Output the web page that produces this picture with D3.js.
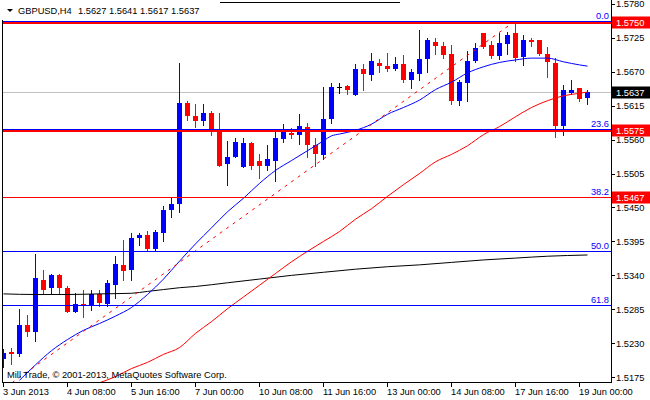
<!DOCTYPE html>
<html><head><meta charset="utf-8">
<script src="https://cdn.jsdelivr.net/npm/d3@7"></script>
<style>
body{margin:0;background:#fff}
svg{display:block}
text{font-family:"Liberation Sans",Arial,sans-serif;font-size:9.3px}
</style>
</head><body><div id="chart"></div>
<script>
const symbolName = "GBPUSD,H4";
const opens  = [1.5204,1.5216,1.5213,1.5259,1.5249,1.5333,1.5319,1.5340,1.5319,1.5280,1.5294,1.5292,1.5309,1.5294,1.5325,1.5356,1.5348,1.5400,1.5405,1.5383,1.5408,1.5446,1.5455,1.5620,1.5599,1.5590,1.5603,1.5573,1.5520,1.5531,1.5515,1.5554,1.5526,1.5518,1.5525,1.5561,1.5571,1.5568,1.5580,1.5552,1.5535,1.5593,1.5646,1.5647,1.5633,1.5674,1.5664,1.5684,1.5680,1.5675,1.5683,1.5656,1.5667,1.5690,1.5718,1.5711,1.5698,1.5623,1.5652,1.5688,1.5732,1.5713,1.5695,1.5715,1.5732,1.5693,1.5722,1.5721,1.5699,1.5684,1.5582,1.5636,1.5643,1.5627];
const highs  = [1.5220,1.5222,1.5285,1.5275,1.5375,1.5348,1.5343,1.5343,1.5322,1.5311,1.5317,1.5317,1.5317,1.5332,1.5371,1.5397,1.5408,1.5408,1.5412,1.5414,1.5453,1.5465,1.5684,1.5623,1.5617,1.5617,1.5607,1.5603,1.5558,1.5563,1.5563,1.5556,1.5536,1.5552,1.5574,1.5586,1.5578,1.5602,1.5587,1.5563,1.5646,1.5652,1.5652,1.5649,1.5682,1.5683,1.5701,1.5691,1.5701,1.5693,1.5697,1.5675,1.5738,1.5725,1.5725,1.5718,1.5713,1.5656,1.5704,1.5717,1.5733,1.5719,1.5733,1.5735,1.5750,1.5729,1.5724,1.5721,1.5710,1.5692,1.5648,1.5656,1.5644,1.5641];
const lows   = [1.5191,1.5196,1.5209,1.5242,1.5233,1.5309,1.5309,1.5309,1.5280,1.5280,1.5272,1.5284,1.5290,1.5290,1.5304,1.5333,1.5332,1.5390,1.5379,1.5379,1.5395,1.5434,1.5442,1.5591,1.5580,1.5584,1.5567,1.5518,1.5487,1.5531,1.5515,1.5513,1.5498,1.5510,1.5493,1.5556,1.5563,1.5553,1.5531,1.5517,1.5529,1.5587,1.5636,1.5634,1.5632,1.5641,1.5657,1.5670,1.5671,1.5672,1.5654,1.5643,1.5656,1.5670,1.5699,1.5692,1.5618,1.5616,1.5623,1.5686,1.5709,1.5692,1.5690,1.5698,1.5688,1.5681,1.5711,1.5697,1.5661,1.5564,1.5567,1.5634,1.5623,1.5617];
const closes = [1.5215,1.5212,1.5259,1.5248,1.5335,1.5317,1.5340,1.5319,1.5281,1.5293,1.5291,1.5309,1.5296,1.5327,1.5358,1.5347,1.5400,1.5405,1.5383,1.5410,1.5446,1.5456,1.5620,1.5598,1.5590,1.5603,1.5572,1.5518,1.5532,1.5556,1.5555,1.5518,1.5518,1.5528,1.5562,1.5573,1.5568,1.5582,1.5552,1.5536,1.5593,1.5645,1.5646,1.5640,1.5674,1.5666,1.5687,1.5679,1.5675,1.5683,1.5657,1.5670,1.5690,1.5721,1.5711,1.5697,1.5623,1.5654,1.5688,1.5709,1.5710,1.5695,1.5717,1.5730,1.5692,1.5721,1.5718,1.5698,1.5686,1.5582,1.5640,1.5641,1.5625,1.5637];

const timeTickBars = [0,8,16,24,32,40,48,56,64,72];
const timeTickLabels = ["3 Jun 2013","4 Jun 08:00","5 Jun 16:00","7 Jun 00:00","10 Jun 08:00","11 Jun 16:00","13 Jun 00:00","14 Jun 08:00","17 Jun 16:00","19 Jun 00:00"];
const priceTicks = [1.5780,1.5725,1.5670,1.5615,1.5560,1.5505,1.5450,1.5395,1.5340,1.5285,1.5230,1.5175];

const levelPrices = [1.5750,1.5575,1.5467];
const currentPrice = 1.5637;

const fibLevels = [0,23.6,38.2,50,61.8];
const fibLabels = ["0.0","23.6","38.2","50.0","61.8"];
const fibHighPrice = 1.57525, fibLowPrice = 1.5007;
const fibHighBar = 64, fibLowBar = -16;

const maFastBars = [2,4,6,8,10,12,14,16,18,20,22,24,26,28,30,32,34,36,38,40,41,42,44,46,48,50,52,54,56,58,60,62,64,66,68,70,72,73];
const maFastVals = [1.5170,1.5195,1.5218,1.5236,1.5251,1.5262,1.5274,1.5288,1.5309,1.5334,1.5363,1.5391,1.5417,1.5443,1.5465,1.5489,1.5510,1.5526,1.5542,1.5558,1.5566,1.5569,1.5575,1.5585,1.5601,1.5612,1.5624,1.5641,1.5653,1.5668,1.5678,1.5685,1.5689,1.5692,1.5692,1.5686,1.5681,1.5679];

const maMidBars = [12,14,16,18,20,22,24,26,28,30,32,34,36,38,40,42,44,46,48,50,52,54,56,58,60,62,64,66,68,70,72,73];
const maMidVals = [1.5166,1.5176,1.5189,1.5199,1.5212,1.5223,1.5246,1.5265,1.5286,1.5305,1.5324,1.5343,1.5362,1.5379,1.5395,1.5411,1.5431,1.5448,1.5468,1.5487,1.5505,1.5524,1.5536,1.5550,1.5568,1.5581,1.5597,1.5612,1.5623,1.5631,1.5635,1.5637];

const maSlowBars = [0,4,8,12,16,18,20,22,24,28,32,36,40,44,48,52,56,60,64,68,73];
const maSlowVals = [1.5310,1.5309,1.5309,1.5310,1.5311,1.5314,1.5317,1.5320,1.5322,1.5328,1.5334,1.5340,1.5345,1.5350,1.5354,1.5357,1.5361,1.5365,1.5368,1.5371,1.5373];

const copyright = "Mill Trade, \u00A9 2001-2013, MetaQuotes Software Corp.";

const W = 650, H = 400;
const plot = {l:2, r:611, t:0, b:382};
const BLUE = "#0000ff", RED = "#ff0000";
const levelStrokeWidths = [2,2,1];

const svg = d3.select("#chart").append("svg").attr("width",W).attr("height",H);
const x = d3.scaleLinear().domain([0,73]).range([3.5,587.5]);
const y = d3.scaleLinear().domain([1.5175,1.5780]).range([377.2,3.8]);
const py = v => Math.round(y(v)) + 0.5;

svg.append("defs").append("clipPath").attr("id","clip")
  .append("rect").attr("x",plot.l).attr("y",plot.t).attr("width",plot.r-plot.l).attr("height",plot.b-plot.t);
const g = svg.append("g").attr("clip-path","url(#clip)");

// current price line
g.append("line").attr("x1",plot.l).attr("x2",plot.r).attr("y1",py(currentPrice)).attr("y2",py(currentPrice))
  .attr("stroke","#c0c0c0").attr("stroke-width",1).attr("shape-rendering","crispEdges");

// candles
const bars = opens.map((o,i)=>({i, o, h:highs[i], l:lows[i], c:closes[i]}));
const col = d => d.c > d.o ? BLUE : (d.c < d.o ? RED : "#000");
const cg = g.append("g").attr("shape-rendering","crispEdges");
cg.selectAll("line.wick").data(bars).join("line").attr("class","wick")
  .attr("x1",d=>x(d.i)).attr("x2",d=>x(d.i))
  .attr("y1",d=>Math.round(y(d.h))).attr("y2",d=>Math.round(y(d.l))+1)
  .attr("stroke",col).attr("stroke-width",1);
cg.selectAll("rect.body").data(bars).join("rect").attr("class","body")
  .attr("x",d=>x(d.i)-2.5).attr("width",5)
  .attr("y",d=>Math.round(y(Math.max(d.o,d.c))))
  .attr("height",d=>Math.max(1,Math.round(y(Math.min(d.o,d.c)))-Math.round(y(Math.max(d.o,d.c)))))
  .attr("fill",col);

// moving averages
const line = d3.line().x(d=>x(d[0])).y(d=>y(d[1])).curve(d3.curveMonotoneX);
const mas = [
  {b:maSlowBars, v:maSlowVals, c:"#000"},
  {b:maMidBars, v:maMidVals, c:RED},
  {b:maFastBars, v:maFastVals, c:BLUE}
];
mas.forEach(m=>{
  g.append("path").attr("d",line(m.b.map((b,i)=>[b,m.v[i]])))
    .attr("fill","none").attr("stroke",m.c).attr("stroke-width",1);
});

// fibonacci trend line
g.append("line")
  .attr("x1",x(fibLowBar)).attr("y1",y(fibLowPrice))
  .attr("x2",x(fibHighBar)).attr("y2",y(fibHighPrice))
  .attr("stroke",RED).attr("stroke-width",1).attr("stroke-dasharray","3,5");

// fibonacci levels (drawn first, red levels on top)
const hg = g.append("g").attr("shape-rendering","crispEdges");
const fibPrice = lv => fibHighPrice - (fibHighPrice-fibLowPrice)*lv/100;
fibLevels.forEach(lv=>{
  const fy = py(fibPrice(lv));
  hg.append("line").attr("x1",plot.l).attr("x2",plot.r)
    .attr("y1",fy).attr("y2",fy).attr("stroke",BLUE).attr("stroke-width",1);
});
levelPrices.forEach((p,i)=>{
  const w = levelStrokeWidths[i];
  const yy = w === 2 ? Math.round(y(p)) + 1 : py(p);
  hg.append("line").attr("x1",plot.l).attr("x2",plot.r)
    .attr("y1",yy).attr("y2",yy).attr("stroke",RED).attr("stroke-width",w);
});
fibLevels.forEach((lv,i)=>{
  svg.append("text").attr("x",609).attr("y",py(fibPrice(lv))-2.5)
    .attr("text-anchor","end").attr("fill",BLUE).text(fibLabels[i]);
});

// frame
const fr = svg.append("g").attr("shape-rendering","crispEdges").attr("stroke","#000").attr("stroke-width",1);
fr.append("line").attr("x1",plot.l+0.5).attr("x2",plot.l+0.5).attr("y1",20).attr("y2",plot.b+0.5);
fr.append("line").attr("x1",plot.l).attr("x2",plot.r+1).attr("y1",plot.b+0.5).attr("y2",plot.b+0.5);
fr.append("line").attr("x1",plot.r+0.5).attr("x2",plot.r+0.5).attr("y1",0).attr("y2",plot.b+1);
fr.append("line").attr("x1",220).attr("x2",400).attr("y1",2.5).attr("y2",2.5);

// price axis
priceTicks.forEach(p=>{
  fr.append("line").attr("x1",plot.r+1).attr("x2",plot.r+4).attr("y1",py(p)).attr("y2",py(p));
  svg.append("text").attr("x",616).attr("y",y(p)+3.4).attr("fill","#000").text(p.toFixed(4));
});
// time axis
timeTickBars.forEach((b,i)=>{
  fr.append("line").attr("x1",x(b)).attr("x2",x(b)).attr("y1",plot.b+1).attr("y2",plot.b+5);
  svg.append("text").attr("x",x(b)-0.5).attr("y",394.5).attr("fill","#000").text(timeTickLabels[i]);
});

// price boxes
const boxes = levelPrices.map(p=>({p, c:RED})).concat([{p:currentPrice, c:"#000"}]);
boxes.forEach(bx=>{
  svg.append("rect").attr("x",612).attr("y",py(bx.p)-6).attr("width",38).attr("height",12).attr("fill",bx.c);
  svg.append("text").attr("x",616).attr("y",py(bx.p)+3.2).attr("fill","#fff").text(bx.p.toFixed(4));
});

// title
svg.append("path").attr("d","M7,9 L13,9 L10,12 Z").attr("fill","#000");
svg.append("text").attr("x",18).attr("y",14).attr("fill","#000").text(symbolName);
svg.append("text").attr("x",78).attr("y",14).attr("fill","#000")
  .text([opens[73],highs[73],lows[73],closes[73]].map(v=>v.toFixed(4)).join(" "));

// copyright
svg.append("text").attr("x",7).attr("y",378).attr("fill","#000").text(copyright);
</script>
</body></html>
